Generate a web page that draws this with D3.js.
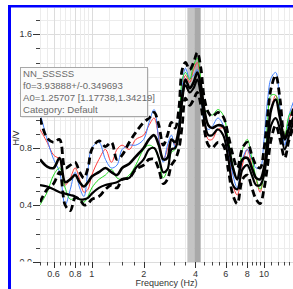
<!DOCTYPE html>
<html>
<head>
<meta charset="utf-8">
<script src="https://cdn.jsdelivr.net/npm/d3@7"></script>
<style>
  body { margin: 0; background: #fff; }
  svg { display: block; font-family: "Liberation Sans", Arial, sans-serif; }
</style>
</head>
<body>
<svg id="chart" width="293" height="289"></svg>
<script>
// frequencies (Hz)
var freqs = [0.5, 0.55, 0.6, 0.65, 0.7, 0.75, 0.8, 0.85, 0.9, 0.95, 1.0, 1.1, 1.2, 1.3, 1.4, 1.5, 1.65, 1.8,
    2.0, 2.15, 2.3, 2.45, 2.6, 2.75, 2.9, 3.05, 3.2, 3.35, 3.5, 3.7, 3.9, 4.1, 4.3, 4.5, 4.75, 5.0, 5.4, 5.8,
    6.2, 6.6, 7.0, 7.5, 8.0, 8.5, 9.0, 9.5, 10, 10.5, 11, 11.7, 12.4, 13.2, 14, 15];

// H/V curves
var redCurve = [0.93,0.84,0.75,0.72,0.54,0.59,0.66,0.58,0.49,0.51,0.61,0.72,0.79,0.70,0.79,0.82,0.79,0.86,0.89,0.96,1.01,0.87,0.72,0.79,0.86,0.82,0.93,1.21,1.31,1.26,1.35,1.40,1.24,1.00,0.86,0.86,0.93,0.94,0.79,0.54,0.47,0.68,0.79,0.68,0.58,0.49,0.65,0.89,1.07,1.17,1.03,0.89,1.00,1.10];
var blueCurve = [1.05,0.86,0.72,0.63,0.40,0.51,0.63,0.52,0.46,0.65,0.80,0.84,0.72,0.66,0.68,0.79,0.82,0.82,0.86,0.98,1.07,0.86,0.70,0.82,0.89,0.80,0.96,1.24,1.36,1.29,1.31,1.35,1.19,0.98,0.93,0.95,1.01,0.96,0.79,0.61,0.52,0.72,0.79,0.72,0.66,0.66,0.86,1.14,1.29,1.33,1.07,0.82,1.03,1.14];
var greenCurve = [0.40,0.49,0.61,0.66,0.52,0.44,0.45,0.44,0.42,0.46,0.52,0.58,0.61,0.65,0.59,0.58,0.61,0.68,0.79,0.82,0.80,0.72,0.59,0.65,0.77,0.79,0.93,1.28,1.33,1.28,1.38,1.43,1.28,1.07,1.05,1.03,1.07,1.03,0.86,0.68,0.58,0.79,0.86,0.73,0.59,0.51,0.61,1.00,1.17,1.17,1.03,0.89,1.03,1.08];
var averageCurve = [0.72,0.67,0.66,0.73,0.56,0.58,0.61,0.56,0.53,0.56,0.60,0.63,0.66,0.63,0.61,0.66,0.69,0.74,0.80,0.86,0.89,0.82,0.72,0.73,0.86,0.84,0.93,1.14,1.28,1.22,1.26,1.33,1.24,1.07,0.96,0.94,0.96,0.95,0.82,0.66,0.58,0.72,0.73,0.66,0.59,0.58,0.66,0.86,1.07,1.14,1.01,0.86,0.94,1.03];
var secondCurve = [0.54,0.53,0.51,0.49,0.48,0.47,0.46,0.44,0.44,0.45,0.48,0.52,0.54,0.55,0.56,0.58,0.59,0.66,0.72,0.79,0.80,0.73,0.63,0.65,0.79,0.80,0.89,1.17,1.24,1.19,1.22,1.28,1.17,1.00,0.89,0.89,0.93,0.89,0.73,0.54,0.51,0.65,0.68,0.61,0.54,0.54,0.61,0.79,0.96,1.01,0.93,0.79,0.89,1.00];
var upperStd = [1.01,0.87,0.84,0.86,0.66,0.68,0.70,0.63,0.59,0.66,0.79,0.85,0.81,0.84,0.72,0.75,0.84,0.91,0.98,1.01,1.05,0.96,0.82,0.89,0.98,0.94,1.07,1.35,1.40,1.35,1.40,1.47,1.36,1.15,1.05,1.02,1.05,1.02,0.89,0.75,0.66,0.80,0.84,0.75,0.68,0.66,0.79,1.03,1.22,1.31,1.14,0.86,0.96,1.10];
var lowerStd = [0.42,0.51,0.55,0.63,0.40,0.36,0.45,0.44,0.40,0.41,0.44,0.46,0.51,0.54,0.52,0.58,0.59,0.65,0.68,0.72,0.72,0.65,0.55,0.58,0.68,0.72,0.79,0.96,1.15,1.10,1.14,1.19,1.10,0.93,0.82,0.80,0.84,0.82,0.65,0.47,0.41,0.58,0.61,0.52,0.44,0.41,0.51,0.68,0.86,0.96,0.86,0.73,0.86,0.96];

// peak: f0 and its deviation
var f0 = 3.93888;
var f0Std = 0.349693;

// axis ticks
var xLabelTicks = [0.6, 0.8, 1, 2, 4, 6, 8, 10];
var xMinorTicks = [0.5, 0.55, 0.65, 0.7, 0.75, 0.85, 0.9, 0.95, 1.25, 1.5, 1.75, 2.5, 3, 3.5, 4.5, 5, 5.5,
    6.5, 7, 7.5, 8.5, 9, 9.5, 11, 12, 13, 14];
var yLabelTicks = [0, 0.4, 0.8, 1.2, 1.6];
var yMinorTicks = [0.1, 0.2, 0.3, 0.5, 0.6, 0.7, 0.9, 1.0, 1.1, 1.3, 1.4, 1.5, 1.7];

var tooltipLines = ["NN_SSSSS", "f0=3.93888+/-0.349693", "A0=1.25707 [1.17738,1.34219]", "Category: Default"];

var svg = d3.select("#chart");

var plotLeft = 40, plotRight = 293, plotTop = 8, plotBottom = 262;

var x = d3.scaleLog()
    .domain([0.5, 10 * Math.pow(10, (plotRight - 264) / 172)])
    .range([plotLeft, plotRight]);
var y = d3.scaleLinear()
    .domain([0, (plotBottom - plotTop) / 142.5])
    .range([plotBottom, plotTop]);

// blue frame
svg.append("rect").attr("x", 8).attr("y", 5).attr("width", 3).attr("height", 284).attr("fill", "#0000ff");
svg.append("rect").attr("x", 8).attr("y", 5).attr("width", 285).attr("height", 2.5).attr("fill", "#0000ff");

var defs = svg.append("defs");
defs.append("clipPath").attr("id", "plot-clip")
    .append("rect").attr("x", plotLeft).attr("y", plotTop).attr("width", plotRight - plotLeft).attr("height", plotBottom - plotTop);
defs.append("clipPath").attr("id", "label-clip")
    .append("rect").attr("x", 0).attr("y", 0).attr("width", plotLeft).attr("height", plotBottom - 0.5);

// grid
var grid = svg.append("g");
grid.selectAll(".hg")
    .data(yMinorTicks.concat(yLabelTicks))
    .enter().append("line")
    .attr("x1", plotLeft).attr("x2", plotRight)
    .attr("y1", d => Math.round(y(d)) + 0.5).attr("y2", d => Math.round(y(d)) + 0.5)
    .attr("stroke", d => yLabelTicks.indexOf(d) >= 0 ? "#dcdcdc" : "#ececec");
grid.selectAll(".vg")
    .data(xMinorTicks.concat(xLabelTicks))
    .enter().append("line")
    .attr("x1", d => Math.round(x(d)) + 0.5).attr("x2", d => Math.round(x(d)) + 0.5)
    .attr("y1", plotTop).attr("y2", plotBottom)
    .attr("stroke", d => xLabelTicks.indexOf(d) >= 0 ? "#dcdcdc" : "#ececec");

// f0 band
svg.append("rect")
    .attr("x", x(f0 - f0Std)).attr("y", plotTop)
    .attr("width", x(f0) - x(f0 - f0Std)).attr("height", plotBottom - plotTop)
    .attr("fill", "#c4c4c4");
svg.append("rect")
    .attr("x", x(f0)).attr("y", plotTop)
    .attr("width", x(f0 + f0Std) - x(f0)).attr("height", plotBottom - plotTop)
    .attr("fill", "#a9a9a9");

// curves
var line = d3.line()
    .x((d, i) => x(freqs[i]))
    .y(d => y(d))
    .curve(d3.curveCatmullRom.alpha(0.5));

var curves = [
    { values: redCurve, color: "#ff3b3b", width: 1, dash: null },
    { values: blueCurve, color: "#3f7fff", width: 1, dash: null },
    { values: greenCurve, color: "#22dd22", width: 1, dash: null },
    { values: secondCurve, color: "#000", width: 2.2, dash: null },
    { values: averageCurve, color: "#000", width: 2.6, dash: null },
    { values: upperStd, color: "#000", width: 2.8, dash: "7,4" },
    { values: lowerStd, color: "#000", width: 2.8, dash: "7,4" }
];

svg.append("g")
    .attr("clip-path", "url(#plot-clip)")
    .selectAll("path")
    .data(curves)
    .enter().append("path")
    .attr("d", d => line(d.values))
    .attr("fill", "none")
    .attr("stroke", d => d.color)
    .attr("stroke-width", d => d.width)
    .attr("stroke-dasharray", d => d.dash);

// y axis ticks and labels
var yAxis = svg.append("g");
yAxis.selectAll(".ymin")
    .data(yMinorTicks)
    .enter().append("line")
    .attr("x1", plotLeft - 4).attr("x2", plotLeft)
    .attr("y1", d => Math.round(y(d)) + 0.5).attr("y2", d => Math.round(y(d)) + 0.5)
    .attr("stroke", "#444");
yAxis.selectAll(".ymaj")
    .data(yLabelTicks)
    .enter().append("line")
    .attr("x1", plotLeft - 7).attr("x2", plotLeft)
    .attr("y1", d => Math.round(y(d)) + 0.5).attr("y2", d => Math.round(y(d)) + 0.5)
    .attr("stroke", "#333");
yAxis.append("g")
    .attr("clip-path", "url(#label-clip)")
    .selectAll("text")
    .data(yLabelTicks)
    .enter().append("text")
    .attr("x", plotLeft - 8).attr("y", d => y(d) + 3.3)
    .attr("text-anchor", "end")
    .attr("font-size", 9)
    .attr("fill", "#333")
    .text(d => d3.format(".1f")(d));

// x axis ticks and labels
var xAxis = svg.append("g");
xAxis.selectAll(".xmin")
    .data(xMinorTicks.filter(d => x(d) <= plotRight))
    .enter().append("line")
    .attr("x1", d => Math.round(x(d)) + 0.5).attr("x2", d => Math.round(x(d)) + 0.5)
    .attr("y1", plotBottom).attr("y2", plotBottom + 3.5)
    .attr("stroke", "#444");
xAxis.selectAll(".xmaj")
    .data(xLabelTicks)
    .enter().append("line")
    .attr("x1", d => Math.round(x(d)) + 0.5).attr("x2", d => Math.round(x(d)) + 0.5)
    .attr("y1", plotBottom).attr("y2", plotBottom + 6)
    .attr("stroke", "#333");
xAxis.selectAll("text")
    .data(xLabelTicks)
    .enter().append("text")
    .attr("x", d => x(d)).attr("y", plotBottom + 15)
    .attr("text-anchor", "middle")
    .attr("font-size", 9)
    .attr("fill", "#333")
    .text(d => d);

// axis titles
svg.append("text")
    .attr("x", (plotLeft + plotRight) / 2).attr("y", 286)
    .attr("text-anchor", "middle")
    .attr("font-size", 9)
    .attr("fill", "#333")
    .text("Frequency (Hz)");
svg.append("text")
    .attr("transform", "translate(19,138) rotate(-90)")
    .attr("text-anchor", "middle")
    .attr("font-size", 9)
    .attr("fill", "#333")
    .text("H/V");

// tooltip box
var tip = svg.append("g").attr("transform", "translate(20,67)");
tip.append("rect")
    .attr("x", 1.5).attr("y", 1.5).attr("width", 127).attr("height", 49)
    .attr("fill", "#d8d8d8");
tip.append("rect")
    .attr("x", 0.5).attr("y", 0.5).attr("width", 127).attr("height", 49)
    .attr("fill", "#fbfbfb").attr("stroke", "#a8a8a8");
tip.selectAll("text")
    .data(tooltipLines)
    .enter().append("text")
    .attr("x", 3).attr("y", (d, i) => 10 + i * 12)
    .attr("font-size", 9.6)
    .attr("fill", "#6a6a6a")
    .text(d => d);
</script>
</body>
</html>
